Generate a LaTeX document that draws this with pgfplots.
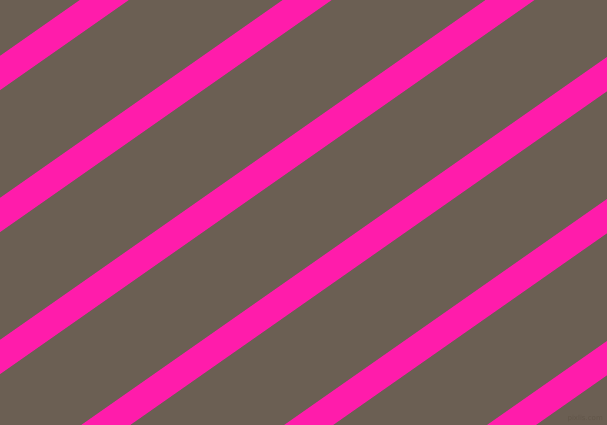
\documentclass[border=0pt]{standalone}
\usepackage{pgfplots}
\pgfplotsset{compat=1.18}
\usepackage{fontspec}
\setmainfont{DejaVu Sans}
\definecolor{bgc}{HTML}{6B5F53}
\definecolor{stripe}{HTML}{FF1CAB}
\definecolor{mark}{HTML}{625649}
\begin{document}
\begin{tikzpicture}
\begin{axis}[
    scale only axis,
    width=607pt, height=425pt,
    xmin=0, xmax=607,
    ymin=0, ymax=425,
    y dir=reverse,
    hide axis,
    clip=true,
]
% background
\addplot[fill=bgc, draw=none] coordinates {(0,0) (607,0) (607,425) (0,425)} -- cycle;
% stripes, y = c - 0.7 x (image pixels)
\addplot[stripe, line width=28pt] coordinates {(-60,115) (680,-403)};
\addplot[stripe, line width=28pt] coordinates {(-60,257) (680,-261)};
\addplot[stripe, line width=28pt] coordinates {(-60,399) (680,-119)};
\addplot[stripe, line width=28pt] coordinates {(-60,541) (680,23)};
\addplot[stripe, line width=28pt] coordinates {(-60,683) (680,165)};
\addplot[stripe, line width=28pt] coordinates {(-60,825) (680,307)};
\node[anchor=south east, font=\fontsize{7}{8}\selectfont, text=mark, inner sep=2pt]
    at (axis cs:605,424) {pixlis.com};
\end{axis}
\pgfresetboundingbox
\path (0,0) rectangle (607pt,425pt);
\end{tikzpicture}
\end{document}
